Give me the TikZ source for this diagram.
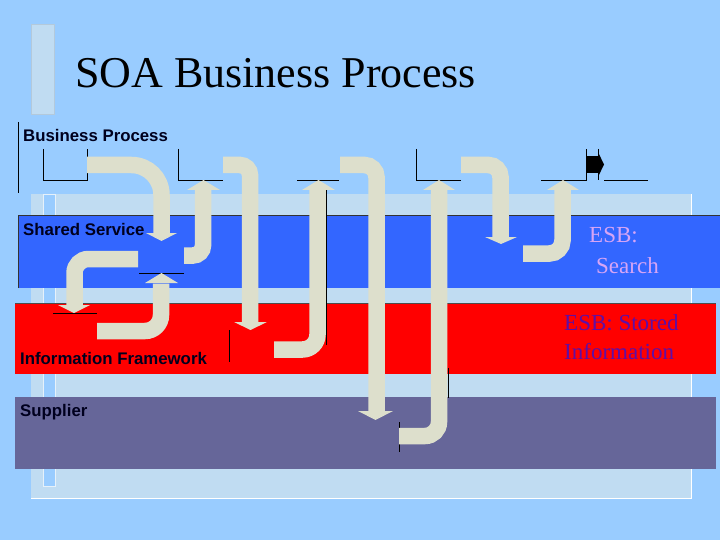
\documentclass[tikz,border=0pt]{standalone}
\usepackage{fontspec}
\setmainfont{Liberation Serif}
\newfontfamily\lanefont{Liberation Sans}
\definecolor{bgblue}{RGB}{153,204,255}
\definecolor{panel}{RGB}{192,220,242}
\definecolor{laneblue}{RGB}{51,102,255}
\definecolor{lanered}{RGB}{255,0,0}
\definecolor{lanesup}{RGB}{102,102,153}
\definecolor{pipecol}{RGB}{221,223,204}
\definecolor{labelcol}{RGB}{0,0,30}
\definecolor{esbsearch}{RGB}{215,165,245}
\definecolor{esbstored}{RGB}{95,15,165}
\tikzset{
  pipe/.style={draw=pipecol, line width=16.5pt},
  head/.style={fill=pipecol},
  thin/.style={draw=black, line width=0.8pt},
  lanelabel/.style={anchor=base west, inner sep=0pt, text=labelcol, font=\lanefont\bfseries\fontsize{16.8}{18}\selectfont},
  esb/.style={anchor=base west, inner sep=0pt, font=\fontsize{23}{26}\selectfont},
}
\begin{document}
\begin{tikzpicture}[x=1pt,y=-1pt]
\useasboundingbox (0,0) rectangle (720,540);
\fill[bgblue] (0,0) rectangle (720,540);
% title bar
\filldraw[fill=panel, draw=panel!80!gray, line width=0.6pt] (31,24) rectangle (54,114);
\node[anchor=base west, inner sep=0pt, font=\fontsize{44}{48}\selectfont] (title) at (75,88) {SOA Business Process};
% panel
\fill[panel] (31,194) rectangle (691,498);
\draw[white, line width=0.8pt] (691,194) -- (691,498) -- (31,498);
\filldraw[fill=bgblue, draw=white!60!panel, line width=0.5pt] (43,194) rectangle (55,486);
% lanes
\fill[laneblue] (18,215) rectangle (720,288);
\draw[black!80, line width=0.7pt] (18,288) -- (18,215) -- (720,215);
\fill[lanered] (15,303) rectangle (716,374);
\draw[black!70, line width=0.7pt] (15,303) -- (716,303);
\fill[lanesup] (15,397) rectangle (716,469);
% labels
\node[lanelabel] (lbp) at (23,142) {Business Process};
\node[lanelabel] (lss) at (23,236) {Shared Service};
\node[lanelabel] (lif) at (20,364) {Information Framework};
\node[lanelabel] (lsu) at (20,416) {Supplier};
\node[esb, text=esbsearch] (esb1) at (589,243) {ESB:};
\node[esb, text=esbsearch] (esb2) at (596,273) {Search};
\node[esb, text=esbstored] (esb3) at (564,330) {ESB: Stored};
\node[esb, text=esbstored] (esb4) at (564,359) {Information};
% thin black step lines
\draw[thin] (18,122) -- (18,193);
\draw[thin] (43,149) -- (43,180) -- (87,180) -- (87,149);
\draw[thin] (178,149) -- (178,180) -- (223,180);
\draw[thin] (297,180) -- (339,180);
\draw[thin] (416,149) -- (416,180) -- (461,180);
\draw[thin] (541,180) -- (586,180) -- (586,149);
\draw[thin] (598,149) -- (598,180);
\draw[thin] (604,180) -- (648,180);
\draw[thin] (139,273) -- (184,273);
\draw[thin] (53,313) -- (97,313);
\draw[thin] (229,330) -- (229,362);
\draw[thin] (399,422) -- (399,452);
\draw[thin] (242,180) -- (242,288);
\draw[thin] (326,190) -- (326,345);
\draw[thin] (370,180) -- (370,240);
\draw[thin] (448,368) -- (448,398);
\draw[thin] (431,375) -- (431,408);
% black block arrow
\fill[black] (586,156) rectangle (598,173);
\fill[black] (598,152) -- (604,164.5) -- (598,177) -- cycle;
% pipe end points
\coordinate (p1s) at (87,165);    \coordinate (p1e) at (161.5,234);
\coordinate (p2s) at (184,255.5); \coordinate (p2e) at (203,189);
\coordinate (p3s) at (223,165);   \coordinate (p3e) at (250,323);
\coordinate (p4s) at (274,349.5); \coordinate (p4e) at (317.5,189);
\coordinate (p5s) at (340,165);   \coordinate (p5e) at (376.5,412);
\coordinate (p6s) at (399,436);   \coordinate (p6e) at (439,189);
\coordinate (p7s) at (461,165);   \coordinate (p7e) at (500.5,238);
\coordinate (p8s) at (523,253.5); \coordinate (p8e) at (562.5,189);
\coordinate (p9s) at (97,331);    \coordinate (p9e) at (161,283.5);
\coordinate (p10s) at (138,259);  \coordinate (p10e) at (74.5,306);
% pipes
\draw[pipe, rounded corners=30] (p1s) -| (p1e);
\fill[head] (146,233) -- (177,233) -- (161.5,241) -- cycle;
\draw[pipe, rounded corners=10] (p2s) -| (p2e);
\fill[head] (187,190) -- (220,190) -- (203.5,180) -- cycle;
\draw[pipe, rounded corners=10] (p3s) -| (p3e);
\fill[head] (234,322) -- (267,322) -- (250.5,330) -- cycle;
\draw[pipe, rounded corners=15] (p4s) -| (p4e);
\fill[head] (302,190) -- (335,190) -- (318.5,180) -- cycle;
\draw[pipe, rounded corners=12] (p5s) -| (p5e);
\fill[head] (358,411) -- (393,411) -- (375.5,420) -- cycle;
\draw[pipe, rounded corners=14] (p6s) -| (p6e);
\fill[head] (423,190) -- (455,190) -- (439,180) -- cycle;
\draw[pipe, rounded corners=12] (p7s) -| (p7e);
\fill[head] (485,237) -- (517,237) -- (501,244) -- cycle;
\draw[pipe, rounded corners=13] (p8s) -| (p8e);
\fill[head] (547,190) -- (579,190) -- (563,180) -- cycle;
\draw[pipe, rounded corners=16] (p9s) -| (p9e);
\fill[head] (145,283) -- (178,283) -- (161.5,273) -- cycle;
\draw[pipe, rounded corners=14] (p10s) -| (p10e);
\fill[head] (58,305) -- (90,305) -- (74,313) -- cycle;
\end{tikzpicture}
\end{document}
